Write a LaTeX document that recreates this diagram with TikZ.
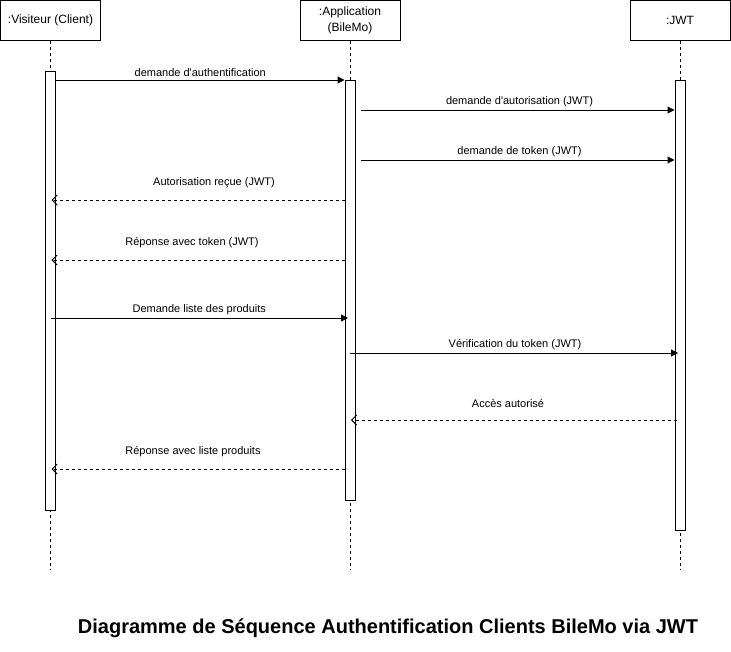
\documentclass[tikz,border=0pt]{standalone}
\usepackage{fontspec}
\setmainfont{Liberation Sans}
\usetikzlibrary{arrows.meta,positioning}

\begin{document}
\begin{tikzpicture}[x=1pt, y=-1pt,
  tete/.style={rectangle, draw=black, line width=1pt, minimum width=100pt, minimum height=40pt, text centered, align=center, font=\fontsize{12}{16}\selectfont},
  barre/.style={rectangle, draw=black, fill=white, line width=1pt, minimum width=10pt, inner sep=0pt},
  vie/.style={line width=0.8pt, dash pattern=on 3pt off 3pt},
  appel/.style={-{Triangle[length=7pt,width=7pt]}, line width=1pt},
  retour/.style={-{Straight Barb[length=5pt,width=10pt]}, line width=1pt, dash pattern=on 3pt off 3pt},
  lbl/.style={font=\fontsize{11}{13}\selectfont, inner sep=0pt}]
\useasboundingbox (0,0) rectangle (731,651);

% Participants
\node (visiteur) [tete] at (50.5,20) {:Visiteur (Client)};
\node (application) [tete] at (350,20) {:Application\\(BileMo)};
\node (jwt) [tete] at (680,20) {:JWT};

% Lignes de vie
\coordinate (finV) at (50.5,570);
\coordinate (finA) at (350,570);
\coordinate (finJ) at (680,570);
\draw[vie] (visiteur.south) -- (finV);
\draw[vie] (application.south) -- (finA);
\draw[vie] (jwt.south) -- (finJ);

% Barres d'activation
\node (barreV) [barre, minimum height=439pt] at (50.5,290.5) {};
\node (barreA) [barre, minimum height=420pt] at (350,290) {};
\node (barreJ) [barre, minimum height=450pt] at (680,305) {};

% Niveaux des messages
\coordinate (m1) at (0,80);
\coordinate (m2) at (0,110);
\coordinate (m3) at (0,160);
\coordinate (m4) at (0,200);
\coordinate (m5) at (0,260);
\coordinate (m6) at (0,318);
\coordinate (m7) at (0,353);
\coordinate (m8) at (0,420);
\coordinate (m9) at (0,469);

% Messages
\draw[appel] (barreV.east |- m1) -- (barreA.west |- m1)
  node[lbl, midway, above=2.5pt] {demande d\textquotesingle authentification};
\draw[appel] ([xshift=5pt]barreA.east |- m2) -- (barreJ.west |- m2)
  node[lbl, midway, above=2.5pt, xshift=2pt] {demande d\textquotesingle autorisation (JWT)};
\draw[appel] ([xshift=5pt]barreA.east |- m3) -- (barreJ.west |- m3)
  node[lbl, midway, above=2.5pt, xshift=2pt] {demande de token (JWT)};
\draw[retour] (barreA.west |- m4) -- ([xshift=1pt]barreV.center |- m4)
  node[lbl, midway, above=11.5pt, xshift=16pt] {Autorisation reçue (JWT)};
\draw[retour] (barreA.west |- m5) -- ([xshift=1pt]barreV.center |- m5)
  node[lbl, midway, above=11.5pt, xshift=-6pt] {Réponse avec token (JWT)};
\draw[appel] (barreV.center |- m6) -- ([xshift=-2pt]barreA.center |- m6)
  node[lbl, midway, above=2.5pt] {Demande liste des produits};
\draw[appel] (barreA.center |- m7) -- ([xshift=-2pt]barreJ.center |- m7)
  node[lbl, midway, above=2.5pt, xshift=1pt] {Vérification du token (JWT)};
\draw[retour] ([xshift=-3pt]barreJ.center |- m8) -- ([xshift=1pt]barreA.center |- m8)
  node[lbl, midway, above=11.5pt, xshift=-6pt] {Accès autorisé};
\draw[retour] (barreA.west |- m9) -- ([xshift=1pt]barreV.center |- m9)
  node[lbl, midway, above=11.5pt, xshift=-5pt] {Réponse avec liste produits};

% Titre
\node (titre) [font=\bfseries\fontsize{20}{24}\selectfont] at (388,628) {Diagramme de Séquence Authentification Clients BileMo via JWT};

\end{tikzpicture}
\end{document}
